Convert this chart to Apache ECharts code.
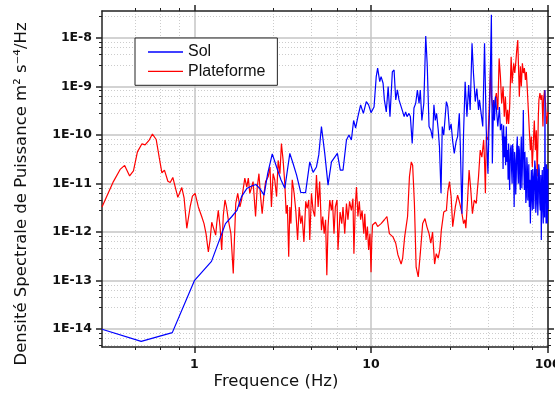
<!DOCTYPE html>
<html><head><meta charset="utf-8">
<script src="https://cdn.jsdelivr.net/npm/echarts@6/dist/echarts.min.js"></script>
<style>html,body{margin:0;padding:0;background:#fff}#c{width:555px;height:394px}</style>
</head><body><div id="c"></div>
<script>
const xMajor = [1, 10, 100];
const xMinor = [0.46, 0.64, 0.82, 2.8, 4.6, 6.4, 8.2, 28, 46, 64, 82];
const yMajor = [1e-14, 1e-13, 1e-12, 1e-11, 1e-10, 1e-9, 1e-8];
const yMinor = [4.6e-15, 6.4e-15, 8.2e-15,
  2.8e-14, 4.6e-14, 6.4e-14, 8.2e-14,
  2.8e-13, 4.6e-13, 6.4e-13, 8.2e-13,
  2.8e-12, 4.6e-12, 6.4e-12, 8.2e-12,
  2.8e-11, 4.6e-11, 6.4e-11, 8.2e-11,
  2.8e-10, 4.6e-10, 6.4e-10, 8.2e-10,
  2.8e-9, 4.6e-9, 6.4e-9, 8.2e-9,
  2.8e-8];
const seriesNames = ['Sol', 'Plateforme'];

const solData = [
[0.3,1.0e-14],[0.5,5.6e-15],[0.75,8.5e-15],[1.0,1.0e-13],[1.25,2.5e-13],[1.5,1.5e-12],
[1.63,2.1e-12],[1.74,2.8e-12],[1.85,5.4e-12],[1.98,7.9e-12],[2.11,8.9e-12],[2.23,9.6e-12],
[2.35,7.9e-12],[2.48,5.8e-12],[2.6,1.6e-11],[2.76,4.1e-11],[2.92,2.2e-11],[3.09,1.2e-11],
[3.25,8e-12],[3.47,4.2e-11],[3.62,2.6e-11],[3.79,1.5e-11],[4.0,6.6e-12],[4.26,6.5e-12],
[4.5,2.8e-11],[4.7,1.7e-11],[4.91,2.2e-11],[5.06,3.9e-11],[5.24,1.5e-10],[5.47,4.2e-11],
[5.71,9.3e-12],[5.97,2.8e-11],[6.45,4.2e-11],[6.7,1.9e-11],[6.94,1.9e-11],[7.26,7.9e-11],
[7.5,1.0e-10],[7.74,7.9e-11],[7.97,2.0e-10],[8.18,1.4e-10],[8.43,2.4e-10],[8.73,4.2e-10],
[9.05,2.8e-10],[9.4,4.9e-10],[9.69,4.2e-10],[10.0,2.9e-10],[10.4,3.8e-10],[10.7,1.6e-9],
[10.9,2.4e-9],[11.2,1.26e-9],[11.4,1.6e-9],[11.7,1.17e-9],[11.9,5.3e-10],[12.2,3.0e-10],
[12.5,1.0e-9],[12.8,2.4e-10],[13.2,2.0e-9],[13.5,2.2e-9],[13.8,5.3e-10],[14.1,8.5e-10],
[14.4,5.3e-10],[14.7,5.7e-10],[15.0,3.3e-10],[15.4,2.4e-10],[15.7,3.0e-10],[16.0,2.4e-10],
[16.4,2.8e-10],[16.7,2.4e-10],[17.1,6.7e-11],[17.5,3.6e-10],[17.9,4.5e-10],[18.3,8.5e-10],
[18.7,4.5e-10],[19.0,8.5e-10],[19.4,2.0e-10],[19.9,4.5e-10],[20.4,1.1e-8],[20.8,2.8e-9],
[21.3,1.5e-10],[21.8,1.26e-10],[22.3,8.5e-11],[22.7,4.2e-10],[23.1,2.0e-10],[23.5,2.8e-10],
[24.0,1.3e-10],[24.4,5.7e-11],[24.9,6.3e-12],[25.3,1.5e-10],[25.8,1.0e-10],[26.2,9.3e-11],
[26.7,4.9e-10],[27.2,3.8e-10],[27.8,1.26e-10],[28.4,1.7e-10],[29.0,7.3e-11],[29.6,4.2e-11],
[30.3,7.3e-11],[30.9,9.3e-11],[31.6,2.8e-10],[32.0,6.7e-11],[32.7,2.4e-12],[33.4,1.1e-10],
[34.1,1.26e-9],[34.9,2.4e-10],[35.7,1.07e-9],[36.4,3.3e-10],[37.3,7.8e-9],[38.0,1.9e-9],
[38.9,4.9e-10],[39.7,9.1e-10],[40.6,3.3e-10],[41.1,5.3e-10],[42.0,2.8e-10],[42.9,1.5e-10],
[43.9,7.8e-9],[44.9,1.3e-10],[45.9,1.6e-11],[46.4,9.3e-11],[47.0,4.5e-10],[48.0,3.0e-8],
[48.6,2.6e-11],[49.4,5.3e-10],[50.0,2.0e-10],[50.6,6.2e-10],[51.5,5.7e-10],[52.2,1.5e-10],
[53.3,3.8e-10],[54.0,1.26e-10],[54.9,1.7e-10],[55.6,6.7e-11],[55.9,2.0e-11],[56.3,1.6e-10],
[56.8,3.5e-11],[57.3,9.3e-11],[57.8,2.4e-11],[58.3,1.5e-10],[58.8,2.8e-11],[59.3,4.9e-11],
[59.7,1.2e-11],[60.1,6.7e-11],[60.5,2.2e-11],[60.9,7.4e-12],[61.5,5.0e-11],[62.1,6.2e-11],
[62.5,1.8e-11],[62.9,1.0e-11],[63.3,6.5e-11],[63.8,4.2e-11],[64.2,1.2e-11],[64.6,3.3e-12],
[65.0,4.5e-11],[65.5,3.0e-11],[65.9,6e-12],[66.4,1.4e-11],[66.8,5.5e-11],[67.3,9.3e-11],
[67.7,2.0e-11],[68.2,1.0e-11],[68.6,6.0e-11],[69.1,4.9e-11],[69.5,1.1e-11],[70.0,7.4e-12],
[70.4,4.0e-11],[70.9,9.3e-11],[71.4,8e-12],[71.9,2.2e-11],[72.3,6e-11],[72.8,3.3e-10],
[73.3,2.0e-11],[73.8,7.4e-12],[74.3,4.5e-11],[74.8,1.9e-11],[75.2,4.0e-12],[75.7,5.4e-12],
[76.2,3.5e-11],[76.7,2.2e-11],[77.2,4.5e-12],[77.7,8.5e-12],[78.2,2.5e-11],[78.7,3.3e-12],
[79.2,1.2e-11],[79.8,1.5e-12],[80.3,8e-12],[80.8,1.9e-11],[81.3,5e-12],[81.8,2.8e-12],
[82.3,2.0e-11],[82.9,1.4e-11],[83.4,3e-12],[84.0,7.4e-12],[84.5,3.0e-11],[85.1,2.2e-11],
[85.6,2.5e-12],[86.2,3.9e-12],[86.7,2.0e-11],[87.3,1.2e-11],[87.9,2.2e-12],[88.5,5.4e-12],
[89.0,2.5e-11],[89.6,1.9e-11],[90.2,4e-12],[90.8,2.8e-12],[91.4,1.5e-11],[92.0,6.9e-13],
[92.6,8e-12],[93.2,1.9e-11],[93.8,3e-12],[94.4,1.5e-12],[95.0,2.2e-11],[95.7,1.9e-11],
[96.1,2e-12],[96.5,8.5e-10],[96.9,5e-12],[97.2,1.0e-11],[97.6,6e-12],[97.9,1.5e-12],
[98.4,2.5e-11],[99.0,1.2e-11],[99.5,1.5e-12],[100.0,2e-11],[100.4,3e-12]
];

const plateformeData = [
[0.3,3.3e-12],[0.348,1.1e-11],[0.38,1.96e-11],[0.403,2.37e-11],[0.43,1.44e-11],[0.452,1.82e-11],
[0.476,4.5e-11],[0.505,6.6e-11],[0.526,6.3e-11],[0.555,7.9e-11],[0.579,1.05e-10],[0.608,8.1e-11],
[0.632,3.5e-11],[0.655,1.66e-11],[0.677,1.9e-11],[0.708,1.12e-11],[0.73,1.05e-11],[0.755,1.34e-11],
[0.806,5.2e-12],[0.849,8.3e-12],[0.875,5.0e-12],[0.906,1.2e-12],[0.946,3.3e-12],[0.975,5.5e-12],
[1.01,6.3e-12],[1.053,3.3e-12],[1.10,2.1e-12],[1.134,1.5e-12],[1.164,9.3e-13],[1.2,3.9e-13],
[1.227,6.9e-13],[1.254,1.6e-12],[1.28,1.5e-12],[1.32,8.7e-13],[1.338,1.5e-12],[1.366,2.8e-12],
[1.397,1.3e-12],[1.428,4.3e-13],[1.458,2.2e-12],[1.49,4.6e-12],[1.52,3.3e-12],[1.556,1.8e-12],
[1.61,9.3e-13],[1.66,1.4e-13],[1.68,5e-13],[1.715,3.9e-12],[1.76,6.3e-12],[1.81,3.3e-12],
[1.85,4.6e-12],[1.93,1.3e-11],[1.98,8.5e-12],[2.02,1.3e-11],[2.06,6.3e-12],[2.11,8.5e-12],
[2.15,1.1e-11],[2.22,2.1e-12],[2.27,8.5e-12],[2.32,1.6e-11],[2.37,5.4e-12],[2.42,2.4e-12],
[2.48,6.3e-12],[2.53,1.1e-11],[2.62,1.4e-11],[2.68,2.2e-11],[2.73,3.3e-12],[2.79,1.6e-11],
[2.85,1.2e-11],[2.92,5.4e-12],[2.98,3.0e-11],[3.05,1.6e-11],[3.11,6.7e-11],[3.18,3.0e-11],
[3.25,1.0e-11],[3.31,2.4e-12],[3.36,3.6e-12],[3.42,3.1e-13],[3.47,3.3e-12],[3.52,1.5e-12],
[3.58,1.2e-11],[3.67,6.3e-12],[3.75,2.8e-12],[3.84,6.9e-13],[3.92,3.3e-12],[4.0,1.5e-12],
[4.07,2.2e-12],[4.17,6.3e-13],[4.27,4.3e-12],[4.35,3.1e-12],[4.44,4.6e-12],[4.5,6.9e-13],
[4.6,6.3e-12],[4.7,2.8e-12],[4.8,2.1e-12],[4.91,1.5e-11],[5.02,3.3e-12],[5.12,1.1e-11],
[5.24,1.1e-12],[5.33,2.1e-12],[5.43,9.3e-13],[5.53,1.8e-12],[5.62,1.3e-13],[5.71,1.3e-12],
[5.84,4.6e-12],[5.97,2.8e-12],[6.05,4.6e-12],[6.17,9.3e-13],[6.28,3.3e-12],[6.42,4.6e-12],
[6.5,4.3e-13],[6.68,2.6e-12],[6.83,1.5e-12],[6.94,3.3e-12],[7.1,9.3e-13],[7.26,3.9e-12],
[7.4,1.8e-12],[7.56,4.3e-12],[7.74,2.8e-12],[7.9,4.9e-12],[8.0,3.6e-13],[8.14,3.3e-12],
[8.27,8.5e-12],[8.43,2.1e-12],[8.58,4.3e-12],[8.73,1.8e-12],[8.9,2.8e-12],[9.1,9.3e-13],
[9.22,2.4e-12],[9.37,6.9e-13],[9.54,1.3e-12],[9.69,4.3e-13],[9.86,9.3e-13],[10.0,1.5e-13],
[10.1,6.9e-13],[10.2,1.4e-12],[10.6,1.6e-12],[10.9,1.3e-12],[11.4,1.5e-12],[11.9,1.8e-12],
[12.3,2.1e-12],[12.7,9.3e-13],[13.3,8e-13],[13.8,5.9e-13],[14.2,3.4e-13],[14.8,2.2e-13],
[15.1,2.9e-13],[15.5,8e-13],[15.8,1.3e-12],[16.1,2.1e-12],[16.5,1.4e-11],[16.9,2.8e-11],
[17.2,2.4e-11],[17.6,3.9e-12],[18.0,1.9e-13],[18.5,1.2e-13],[19.0,3.6e-13],[19.6,1.5e-12],
[20.2,1.9e-12],[20.7,1.3e-12],[21.3,9.3e-13],[21.8,5.9e-13],[22.3,1.0e-12],[22.9,2.2e-13],
[23.4,3.6e-13],[24.0,2.9e-13],[24.5,4.3e-13],[25.0,1.1e-12],[25.8,2.6e-12],[26.7,2.8e-12],
[27.2,6.8e-12],[27.8,1.1e-11],[28.4,5.4e-12],[29.0,1.3e-12],[29.4,1.2e-12],[30.0,3.3e-12],
[30.9,5.8e-12],[31.8,3.9e-12],[32.6,2.6e-12],[33.4,1.5e-12],[34.0,1.8e-12],[34.4,1.2e-12],
[35.1,3.9e-12],[35.9,1.9e-11],[36.7,7.4e-12],[37.5,2.4e-12],[38.4,4.6e-12],[39.4,3.9e-12],
[40.6,1.4e-11],[41.5,4.9e-11],[42.4,3.5e-11],[43.4,7.9e-11],[43.9,3.0e-11],[44.4,6.3e-12],
[44.9,9.3e-11],[45.9,7.9e-11],[46.6,3.3e-10],[47.5,2.6e-9],[48.0,6.2e-10],[49.1,3.3e-10],
[50.0,4.5e-10],[51.2,7.3e-10],[52.2,3.3e-10],[53.1,3.8e-9],[54.0,1.6e-9],[54.9,4.5e-10],
[55.9,1.0e-9],[56.8,2.4e-10],[57.6,6.2e-10],[58.6,1.7e-10],[59.3,3.3e-10],[60.1,1.7e-10],
[60.9,3.8e-10],[62.1,4.1e-9],[62.9,1.17e-9],[64.2,3.0e-9],[65.1,1.9e-9],[65.9,3.0e-9],
[66.8,5.6e-9],[67.7,9.1e-9],[68.6,1.6e-9],[69.1,6.2e-10],[70.0,2.6e-9],[70.9,1.0e-9],
[71.9,3.0e-9],[72.8,1.9e-9],[73.8,2.4e-9],[74.8,1.36e-9],[75.7,2.0e-9],[76.7,8.5e-10],
[77.7,3.3e-10],[78.7,1.26e-10],[79.8,4.9e-11],[80.8,9.3e-11],[81.8,2.2e-11],[82.9,6.7e-11],
[84.0,2.0e-10],[85.1,4.9e-11],[86.2,1.26e-10],[87.3,1.4e-11],[88.5,2.4e-10],[89.2,5.3e-10],
[90.4,7.3e-10],[91.6,5.3e-10],[92.8,6.7e-10],[94.0,1.5e-10],[94.7,5.3e-10],[96.0,8.5e-10],
[97.2,4.5e-10],[98.5,1.7e-10],[100.4,3e-10]
];

const X_MIN = 0.3, X_MAX = 100.4, Y_MIN = 4.3e-15, Y_MAX = 3.6e-8;
const AX = '#222';
const labelFont = {fontFamily: 'DejaVu Sans', fontWeight: 'bold', fontSize: 12.5, color: '#111'};

function xAx(pos, major, withLabel) {
  return {
    type: 'log', logBase: 10, min: X_MIN, max: X_MAX, position: pos,
    axisLine: {show: major, onZero: false, lineStyle: {color: AX, width: 1.5}},
    axisTick: {show: true, inside: false, length: major ? 6 : 3,
      customValues: major ? xMajor : xMinor, lineStyle: {color: AX, width: major ? 1.5 : 1}},
    axisLabel: Object.assign({show: withLabel, customValues: xMajor, margin: 11,
      formatter: v => String(Math.round(v))}, labelFont),
    splitLine: {show: pos === 'bottom',
      lineStyle: major ? {color: '#c4c4c4', width: 1.5} : {color: '#cccccc', width: 1, type: [1, 2]}},
    minorTick: {show: false}, minorSplitLine: {show: false}
  };
}
function yAx(pos, major, withLabel) {
  return {
    type: 'log', logBase: 10, min: Y_MIN, max: Y_MAX, position: pos,
    axisLine: {show: major, onZero: false, lineStyle: {color: AX, width: 1.5}},
    axisTick: {show: true, inside: false, length: major ? 6 : 3,
      customValues: major ? yMajor : yMinor, lineStyle: {color: AX, width: major ? 1.5 : 1}},
    axisLabel: Object.assign({show: withLabel, customValues: yMajor, margin: 10,
      formatter: v => '1E' + Math.round(Math.log10(v))}, labelFont),
    splitLine: {show: pos === 'left',
      lineStyle: major ? {color: '#c4c4c4', width: 1.5} : {color: '#cccccc', width: 1, type: [1, 2]}},
    minorTick: {show: false}, minorSplitLine: {show: false}
  };
}

const chart = echarts.init(document.getElementById('c'), null, {renderer: 'canvas'});
chart.setOption({
  animation: false,
  backgroundColor: '#fff',
  grid: {left: 102, right: 7, top: 11, bottom: 47, containLabel: false, outerBoundsMode: 'none'},
  xAxis: [xAx('bottom', false, false), xAx('top', false, false), xAx('bottom', true, true), xAx('top', true, false)],
  yAxis: [yAx('left', false, false), yAx('right', false, false), yAx('left', true, true), yAx('right', true, false)],
  legend: {
    data: seriesNames.map((n, i) => ({name: n, icon: 'rect', itemStyle: {color: i ? '#ff0000' : '#0000ff'}})),
    orient: 'vertical', left: 135, top: 38,
    backgroundColor: '#fff', borderColor: '#222', borderWidth: 1, borderRadius: 0,
    padding: [6, 12, 6, 13], itemWidth: 35, itemHeight: 1.3, itemGap: 3.3,
    textStyle: {fontFamily: 'Liberation Sans', fontSize: 16, lineHeight: 16, color: '#111'}
  },
  graphic: [
    {type: 'text', x: 276, y: 382, z: 10,
     style: {text: 'Frequence (Hz)', fontFamily: 'DejaVu Sans', fontSize: 16.5, fill: '#111', align: 'center', verticalAlign: 'middle'}},
    {type: 'text', x: 22, y: 194, rotation: Math.PI / 2, z: 10,
     style: {text: 'Densité Spectrale de Puissance m² s⁻⁴/Hz', fontFamily: 'DejaVu Sans', fontSize: 16.5, fill: '#111', align: 'center', verticalAlign: 'middle'}}
  ],
  series: [
    {name: seriesNames[0], type: 'line', xAxisIndex: 2, yAxisIndex: 2, data: solData,
     symbol: 'none', showSymbol: false, lineStyle: {color: '#0000ff', width: 1.2}, itemStyle: {color: '#0000ff'}, z: 3},
    {name: seriesNames[1], type: 'line', xAxisIndex: 2, yAxisIndex: 2, data: plateformeData,
     symbol: 'none', showSymbol: false, lineStyle: {color: '#ff0000', width: 1.2}, itemStyle: {color: '#ff0000'}, z: 2}
  ]
});
</script></body></html>
